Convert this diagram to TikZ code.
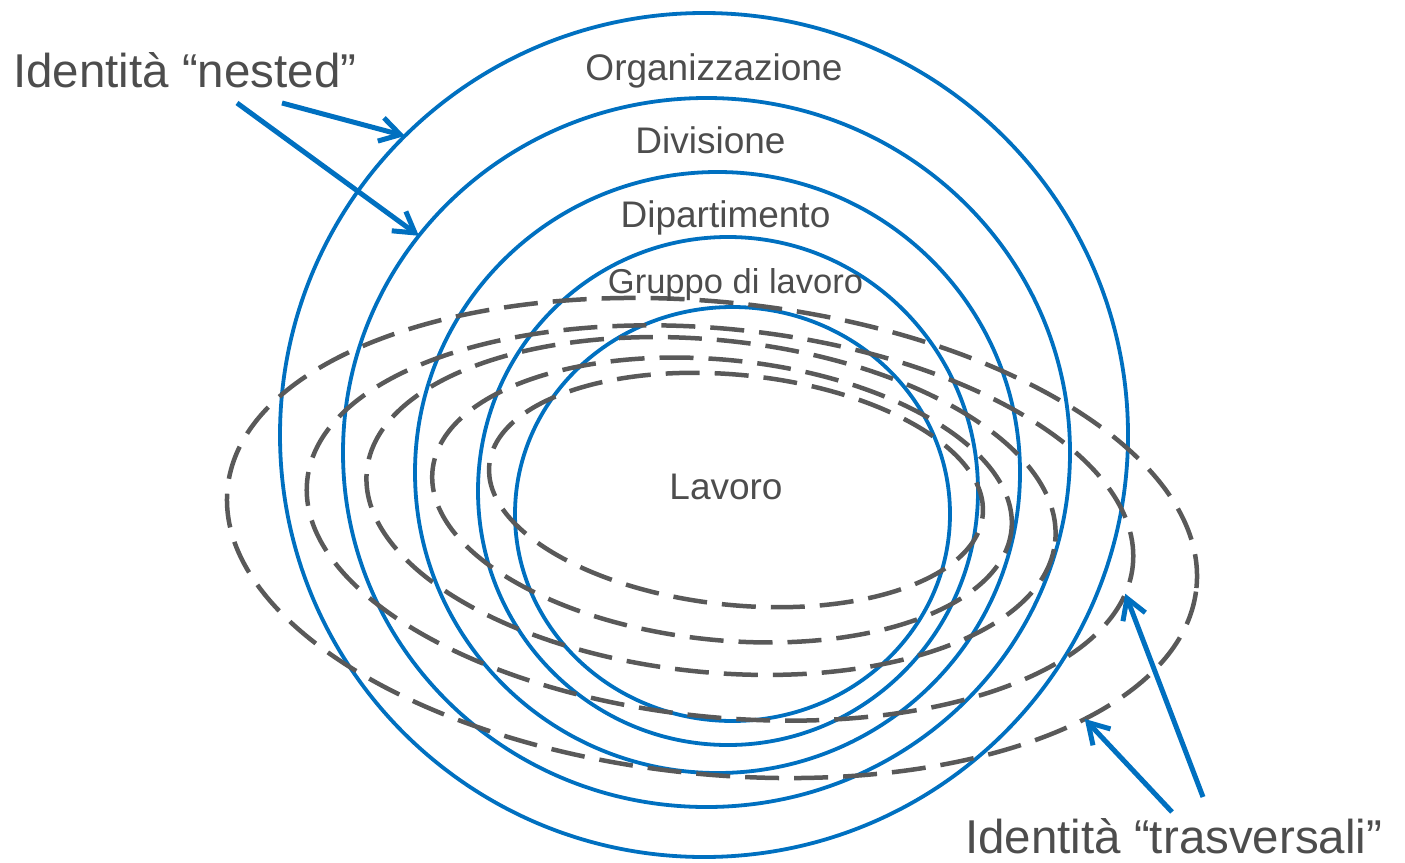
\documentclass[tikz,border=0pt]{standalone}
\usepackage{fontspec}
\setmainfont{Liberation Sans}
\usetikzlibrary{arrows.meta, shapes.geometric}
\definecolor{ringblue}{RGB}{0,112,192}
\definecolor{textgray}{RGB}{77,77,77}
\definecolor{dashgray}{RGB}{89,89,89}

\begin{document}
\begin{tikzpicture}[x=1pt, y=-1pt,
        ring/.style={ellipse, draw=ringblue, line width=3.8pt, inner sep=0pt, outer sep=0pt},
        cross/.style={ellipse, draw=dashgray, line width=4.5pt, inner sep=0pt, outer sep=0pt,
            dash pattern=on 34pt off 15pt, rotate=-5.9},
        level/.style={text=textgray, inner sep=0pt, anchor=base, font=\fontsize{37}{44}\selectfont},
        title/.style={text=textgray, inner sep=0pt, anchor=base west, font=\fontsize{47.5}{57}\selectfont},
        pointer/.style={draw=ringblue, line width=5pt, -{Straight Barb[length=20pt, width=24pt]}}]
        \useasboundingbox (0,0) rectangle (1405,862);
        % Nested rings
        \node[ring, minimum width=848pt, minimum height=844pt] (org) at (704,435) {};
        \node[ring, minimum width=727pt, minimum height=709pt] (div) at (706.5,452.5) {};
        \node[ring, minimum width=605pt, minimum height=601pt] (dip) at (717.5,472.5) {};
        \node[ring, minimum width=500pt, minimum height=508pt] (grp) at (728,491) {};
        \node[ring, minimum width=435pt, minimum height=414pt] (job) at (732.5,514) {};
        % Transversal ellipses
        \node[cross, minimum width=974pt, minimum height=472pt] (tr1) at (712,538) {};
        \node[cross, minimum width=830pt, minimum height=388pt] (tr2) at (720,523) {};
        \node[cross, minimum width=692pt, minimum height=332pt] (tr3) at (711,506) {};
        \node[cross, minimum width=582pt, minimum height=280pt] (tr4) at (722,500) {};
        \node[cross, minimum width=496pt, minimum height=230pt] (tr5) at (736,490) {};
        % Level names
        \node[level] (orgname) at (714,80) {Organizzazione};
        \node[level] (divname) at (710.5,153) {Divisione};
        \node[level] (dipname) at (725.5,227) {Dipartimento};
        \node[level, font=\fontsize{34.5}{41}\selectfont] (grpname) at (735.5,293) {Gruppo di lavoro};
        \node[level] (jobname) at (726,499) {Lavoro};
        % Captions
        \node[title] (nested) at (13,87) {Identità “nested”};
        \node[title] (transv) at (965,853) {Identità “trasversali”};
        % Arrows
        \coordinate (n1) at (282,103);
        \coordinate (n2) at (237,103);
        \coordinate (t1) at (1172,812);
        \coordinate (t2) at (1203,797);
        \draw[pointer] (n1) -- (org.135.1);
        \draw[pointer] (n2) -- (div.143.5);
        \draw[pointer] (t1) -- (tr1.-20.5);
        \draw[pointer] (t2) -- (tr2.-4.6);
\end{tikzpicture}
\end{document}
